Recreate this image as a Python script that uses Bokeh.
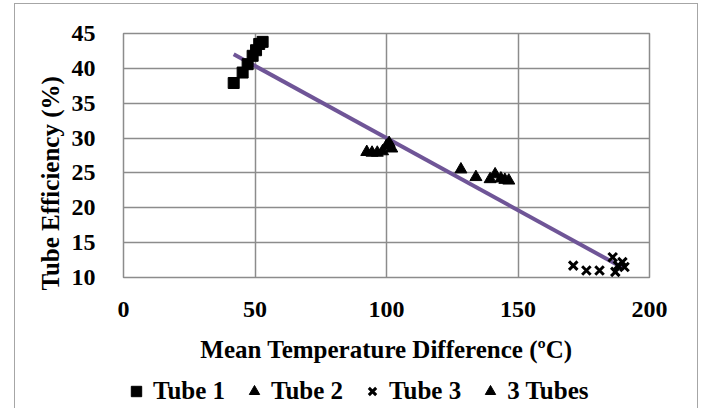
import numpy as np
from bokeh.plotting import figure
from bokeh.layouts import column
from bokeh.models import Legend, LegendItem, Title, FixedTicker, Range1d
from bokeh.embed import file_html
from bokeh.resources import INLINE

# ---- data ----
tube1_x = [41.9, 45.3, 47.2, 49.1, 50.4, 51.6, 52.9]
tube1_y = [37.9, 39.4, 40.6, 41.8, 42.6, 43.5, 43.8]

tube2_x = [92.5, 94.5, 96.5, 98.5, 100.0, 101.0, 102.0]
tube2_y = [28.0, 27.9, 27.9, 28.1, 28.9, 29.3, 28.5]

tube3_x = [171.0, 176.0, 181.0, 186.0, 187.0, 188.0, 189.7, 190.5]
tube3_y = [11.7, 11.0, 11.0, 12.9, 10.8, 11.7, 12.2, 11.5]

tubes3_x = [128.3, 134.0, 139.4, 141.3, 143.5, 145.0, 146.5]
tubes3_y = [25.5, 24.4, 24.1, 24.8, 24.2, 24.0, 23.9]

x_ticks = [0, 50, 100, 150, 200]
y_ticks = [10, 15, 20, 25, 30, 35, 40, 45]

series_names = ["Tube 1", "Tube 2", "Tube 3", "3 Tubes"]
x_title = "Mean Temperature Difference (\u00baC)"
y_title = "Tube Efficiency (%)"

# ---- styles ----
FONT = "Liberation Serif"
GRID = "#8c8c8c"
TREND = "#6f5597"

p = figure(frame_width=526, frame_height=244, output_backend="svg", toolbar_location=None,
           x_range=Range1d(0, 200), y_range=Range1d(10, 45),
           min_border_left=108, min_border_right=48, min_border_top=29,
           min_border_bottom=0)

p.outline_line_color = GRID
p.outline_line_width = 1.5

for ax, ticks in ((p.xaxis, x_ticks), (p.yaxis, y_ticks)):
    ax.ticker = FixedTicker(ticks=ticks)
    ax.axis_line_color = None
    ax.major_tick_line_color = None
    ax.minor_tick_line_color = None
    ax.major_label_text_font = FONT
    ax.major_label_text_font_style = "bold"
    ax.major_label_text_font_size = "24px"
    ax.major_label_text_color = "black"
p.yaxis.major_label_standoff = 22
p.xaxis.major_label_standoff = 18

p.xgrid.ticker = FixedTicker(ticks=x_ticks)
p.ygrid.ticker = FixedTicker(ticks=y_ticks)
for g in (p.xgrid, p.ygrid):
    g.grid_line_color = GRID
    g.grid_line_width = 1.5

p.xaxis.axis_label = x_title
p.xaxis.axis_label_text_font = FONT
p.xaxis.axis_label_text_font_style = "bold"
p.xaxis.axis_label_text_font_size = "25px"
p.xaxis.axis_label_text_color = "black"
p.xaxis.axis_label_standoff = 16

# trend line (least squares over all points)
all_x = np.array(tube1_x + tube2_x + tube3_x + tubes3_x)
all_y = np.array(tube1_y + tube2_y + tube3_y + tubes3_y)
m, b = np.polyfit(all_x, all_y, 1)
tx = np.array([all_x.min(), all_x.max()])
p.line(tx, m * tx + b, line_color=TREND, line_width=4)

marker_styles = [dict(marker="square", size=11, color="black"),
                 dict(marker="triangle", size=12, color="black"),
                 dict(marker="x", size=12, line_color="black", line_width=3),
                 dict(marker="triangle", size=12, color="black")]
series = [(tube1_x, tube1_y), (tube2_x, tube2_y), (tube3_x, tube3_y), (tubes3_x, tubes3_y)]
for (xs, ys), st in zip(series, marker_styles):
    p.scatter(xs, ys, **st)

p.add_layout(Title(text=y_title, align="left", offset=-13, standoff=10,
                   text_font=FONT, text_font_style="bold", text_font_size="25px",
                   text_color="black"), "left")

# legend strip below the chart (its own ranges keep these series out of view;
# only the legend swatches of this strip are seen)
q = figure(width=682, height=43, output_backend="svg", toolbar_location=None,
           x_range=Range1d(-2, -1), y_range=Range1d(-2, -1),
           x_axis_location=None, y_axis_location=None, min_border=0)
q.grid.visible = False
q.outline_line_color = None
leg_renderers = [q.scatter(xs, ys, **st) for (xs, ys), st in zip(series, marker_styles)]
legend = Legend(items=[LegendItem(label=n, renderers=[r]) for n, r in
                       zip(series_names, leg_renderers)],
                orientation="horizontal", location=(0, 3),
                label_text_font=FONT, label_text_font_style="bold",
                label_text_font_size="25px", label_text_color="black",
                glyph_width=26, glyph_height=26, label_standoff=4, spacing=16,
                padding=0, margin=0, border_line_color=None,
                background_fill_alpha=0)
q.add_layout(legend, "center")

layout = column(p, q, spacing=0)
layout.margin = (3, 0, 0, 14)
layout.styles = {"border-left": "1px solid #a6a6a6", "border-top": "1px solid #a6a6a6",
                 "border-right": "1px solid #a6a6a6"}

open("out.html", "w").write(file_html(layout, INLINE))
